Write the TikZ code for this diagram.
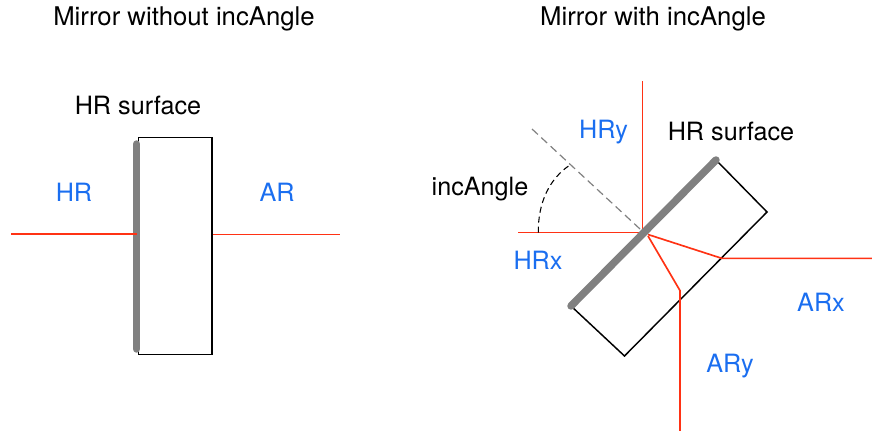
\documentclass[tikz,border=0pt]{standalone}
\usepackage{fontspec}
\setmainfont{TeX Gyre Heros}
\definecolor{rayred}{RGB}{255,50,20}
\definecolor{lblblue}{RGB}{26,110,240}
\definecolor{barGray}{RGB}{128,128,128}
\tikzset{
  blk/.style={inner sep=0pt,text=black,font=\fontsize{18.9}{22}\selectfont,anchor=center},
  ttl/.style={inner sep=0pt,text=black,font=\fontsize{19.3}{22}\selectfont,anchor=center},
  blu/.style={inner sep=0pt,text=lblblue,font=\fontsize{18.9}{22}\selectfont,anchor=center},
  ray/.style={draw=rayred,line width=1.25pt},
  body/.style={draw=black,line width=1.1pt,line join=miter},
  hrbar/.style={draw=barGray,line width=5.6pt,line cap=round},
  normalline/.style={draw=barGray,line width=0.9pt,dash pattern=on 6pt off 3.5pt},
  anglearc/.style={draw=black,line width=0.8pt,dash pattern=on 4.5pt off 3pt}
}
\begin{document}
\begin{tikzpicture}[x=0.75pt,y=-0.75pt]
\useasboundingbox (0,0) rectangle (872,431);
% left mirror
\coordinate (la) at (138.5,137.5); \coordinate (lb) at (212,137.5);
\coordinate (lc) at (212,354.5); \coordinate (ld) at (138.5,354.5);
\draw[body] (la) -- (lb) -- (lc) -- (ld) -- cycle;
\coordinate (lin) at (11,233.7); \coordinate (lhit) at (137,233.7);
\coordinate (lout) at (213,234.6); \coordinate (lend) at (340,234.6);
\coordinate (lbt) at (136.7,144); \coordinate (lbb) at (136.7,349);
\draw[hrbar] (lbt) -- (lbb);
\draw[ray] (lin) -- (lhit);
\draw[ray] (lout) -- (lend);
% right mirror
\coordinate (rt) at (716,160); \coordinate (rr) at (767,212);
\coordinate (rb) at (624.5,356); \coordinate (rl) at (571,306);
\draw[body] (rt) -- (rr) -- (rb) -- (rl);
\coordinate (hx) at (518,232.6); \coordinate (hit) at (642.5,232.6);
\coordinate (hy) at (642.5,81);
\draw[ray] (hx) -- (hit) -- (hy);
\coordinate (a1s) at (648,234.5); \coordinate (a1k) at (722,258.4); \coordinate (a1e) at (872,258.4);
\draw[ray] (a1s) -- (a1k) -- (a1e);
\coordinate (a2s) at (648,236); \coordinate (a2k) at (680,290.6); \coordinate (a2e) at (680,431);
\draw[ray] (a2s) -- (a2k) -- (a2e);
\coordinate (nf) at (532,129); \coordinate (nt) at (640,229);
\draw[normalline] (nf) -- (nt);
\coordinate (arcs) at (538.3,232.6); \coordinate (arce) at (570,165);
\draw[anglearc] (arcs) .. controls (538,203) and (549,179) .. (arce);
\draw[hrbar] (rt) -- (rl);
% labels
\node[ttl] (t1) at (184,19) {Mirror without incAngle};
\node[ttl] (t2) at (653,19) {Mirror with incAngle};
\node[blk] (s1) at (138,105.5) {HR surface};
\node[blk] (s2) at (731,131) {HR surface};
\node[blk] (ia) at (480,189) {incAngle};
\node[blu] (hr) at (74,192) {HR};
\node[blu] (ar) at (277,192) {AR};
\node[blu] (hry) at (603.5,132) {HRy};
\node[blu] (hrx) at (538,260.5) {HRx};
\node[blu] (arx) at (821,302.5) {ARx};
\node[blu] (ary) at (730,366.5) {ARy};
\end{tikzpicture}
\end{document}
